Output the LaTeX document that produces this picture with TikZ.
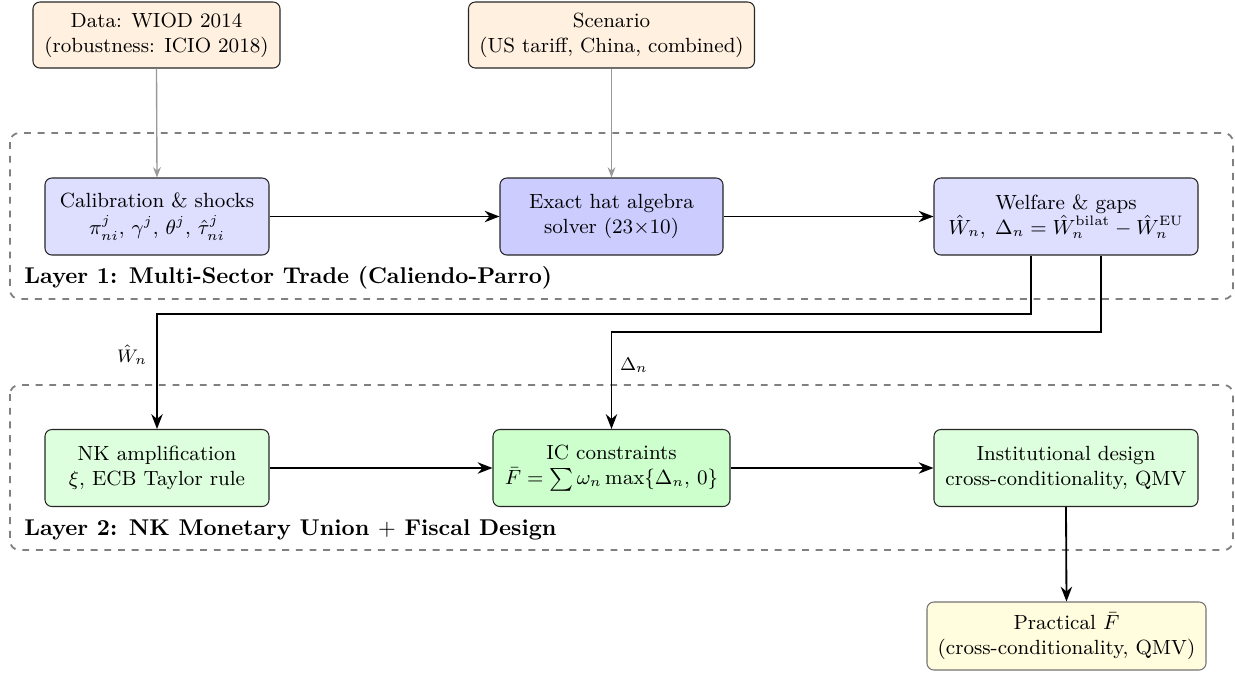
\documentclass[tikz,border=0pt]{standalone}
\usetikzlibrary{arrows.meta,calc}
\newcommand\pxu{0.4386pt}
\begin{document}
\begin{tikzpicture}[x=0.4386pt,y=-0.4386pt,
  box/.style={draw=black!85,rounded corners=3pt,align=center,inner sep=2pt,line width=0.45pt,font=\small},
  src/.style={box,fill=orange!12,minimum height=66*\pxu},
  midbox/.style={box,minimum height=77*\pxu},
  arr/.style={-{Stealth[length=6.5pt,width=5pt]},thick,black},
  garr/.style={-{Stealth[length=4.5pt,width=3.4pt]},semithick,black!40},
  layer/.style={draw=black!50,dashed,thick,rounded corners=4pt},
  lbl/.style={font=\bfseries,anchor=base west,inner sep=0pt},
  elbl/.style={font=\footnotesize,inner sep=1pt}]
\useasboundingbox (0,0) rectangle (1235,672);
% layers
\draw[layer] (10,133) rectangle (1233,299);
\draw[layer] (10,385) rectangle (1233,550);
\node[lbl] (l1) at (24,283) {Layer 1: Multi-Sector Trade (Caliendo-Parro)};
\node[lbl] (l2) at (24,535) {Layer 2: NK Monetary Union $+$ Fiscal Design};
% top sources
\node[src,minimum width=247*\pxu] (data) at (156.5,35) {Data: WIOD 2014\\(robustness: ICIO 2018)};
\node[src,minimum width=286*\pxu] (scen) at (611.5,35) {Scenario\\(US tariff, China, combined)};
% layer 1
\node[midbox,fill=blue!13,minimum width=224*\pxu] (calib) at (157,216.5) {Calibration \& shocks\\[1pt]$\pi^j_{ni},\,\gamma^j,\,\theta^j,\,\hat\tau^j_{ni}$};
\node[midbox,fill=blue!20,minimum width=223*\pxu] (hat) at (611.5,216.5) {Exact hat algebra\\solver (23$\times$10)};
\node[midbox,fill=blue!13,minimum width=264*\pxu] (welf) at (1066,216.5) {Welfare \& gaps\\$\hat W_n,\;\Delta_n=\hat W_n^{\mathrm{bilat}}-\hat W_n^{\mathrm{EU}}$};
% layer 2
\node[midbox,fill=green!13,minimum width=224*\pxu] (nk) at (157,468) {NK amplification\\$\xi$, ECB Taylor rule};
\node[midbox,fill=green!20,minimum width=237*\pxu] (ic) at (611.5,468) {IC constraints\\$\bar F=\sum\omega_n\max\{\Delta_n,\,0\}$};
\node[midbox,fill=green!13,minimum width=264*\pxu] (inst) at (1066,468) {Institutional design\\cross-conditionality, QMV};
% output
\node[box,fill=yellow!13,draw=black!55,minimum width=279*\pxu,minimum height=68*\pxu] (prac) at (1066.5,636) {Practical $\bar F$\\(cross-conditionality, QMV)};
% connectors
\draw[garr] (data.south) -- (calib.north);
\draw[garr] (scen.south) -- (hat.north);
\draw[arr] (calib.east) -- (hat.west);
\draw[arr] (hat.east) -- (welf.west);
\coordinate (b1) at (0,314);
\coordinate (b2) at (0,332);
\draw[arr] ([xshift=-35*\pxu]welf.south) -- ([xshift=-35*\pxu]welf.south |- b1) -| (nk.north);
\draw[arr] ([xshift=35*\pxu]welf.south) -- ([xshift=35*\pxu]welf.south |- b2) -| (ic.north);
\node[elbl] (lw) at (132,355) {$\hat W_n$};
\node[elbl] (ld) at (634,365) {$\Delta_n$};
\draw[arr] (nk.east) -- (ic.west);
\draw[arr] (ic.east) -- (inst.west);
\draw[arr] (inst.south) -- (prac.north);
\end{tikzpicture}
\end{document}
